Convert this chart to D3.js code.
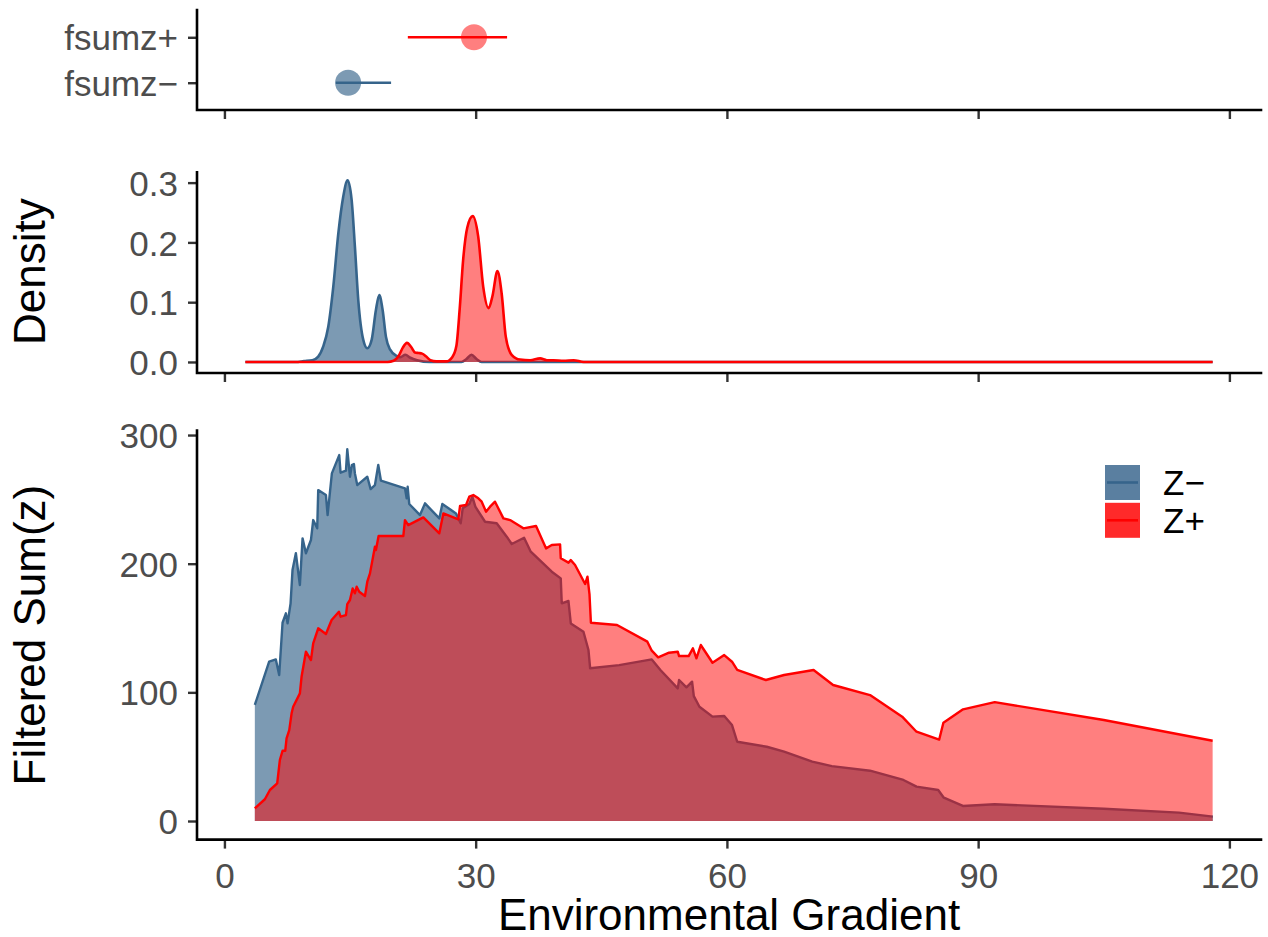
<!DOCTYPE html>
<html><head><meta charset="utf-8">
<script src="https://cdn.jsdelivr.net/npm/d3@7"></script>
<style>html,body{margin:0;padding:0;background:#fff;}svg{display:block;}</style>
</head><body>
<svg id="chart" width="1268" height="937"></svg>
<script>
// ---------------- DATA ----------------
const xTicks = [0, 30, 60, 90, 120];
const densityTicks = [0.0, 0.1, 0.2, 0.3];
const sumTicks = [0, 100, 200, 300];
const summaryLabels = ["fsumz\u2212", "fsumz+"];
const summaryMid = [14.77, 29.8];
const summaryLow = [13.3, 21.9];
const summaryHigh = [19.9, 33.75];
const legendLabels = ["Z\u2212", "Z+"];

const densNegX = [2.5, 8.5, 9.5, 10.5, 11.2, 11.8, 12.4, 13.0, 13.6, 14.18, 14.71, 15.19, 15.58, 15.98, 16.58, 17.06, 17.58, 18.09, 18.49, 18.89, 19.29, 19.77, 20.56, 21.0, 21.6, 22.2, 23.0, 24.5, 28.3, 28.9, 29.5, 30.1, 30.7, 32, 118];
const densNegY = [0, 0, 0.0015, 0.003, 0.009, 0.026, 0.059, 0.126, 0.215, 0.276, 0.304, 0.271, 0.193, 0.104, 0.037, 0.023, 0.037, 0.087, 0.112, 0.087, 0.042, 0.021, 0.010, 0.008, 0.012, 0.007, 0.003, 0, 0, 0.005, 0.012, 0.005, 0, 0, 0];

const densPosX = [2.5, 19.5, 20.2, 20.8, 21.3, 21.8, 22.3, 22.75, 23.2, 23.6, 24.1, 24.6, 25.3, 26.5, 27.2, 27.7, 28.1, 28.5, 29.0, 29.65, 30.3, 30.9, 31.55, 32.0, 32.6, 33.1, 33.6, 34.3, 35.3, 36.5, 37.7, 38.5, 39.3, 40.5, 41.7, 42.9, 44, 118];
const densPosY = [0, 0, 0.002, 0.01, 0.024, 0.032, 0.025, 0.016, 0.015, 0.014, 0.009, 0.003, 0.001, 0.001, 0.008, 0.027, 0.09, 0.17, 0.225, 0.244, 0.21, 0.126, 0.09, 0.11, 0.152, 0.115, 0.042, 0.012, 0.004, 0.003, 0.006, 0.003, 0.003, 0.002, 0.003, 0, 0, 0];

const sumNegX = [3.63, 5.34, 6.14, 6.54, 6.94, 7.34, 7.54, 7.9, 8.13, 8.53, 9.01, 9.33, 9.73, 10.33, 10.6, 11.08, 11.2, 12.12, 12.32, 12.83, 13.71, 13.87, 14.51, 14.67, 14.99, 15.22, 15.46, 15.58, 15.86, 17.06, 17.46, 17.97, 18.37, 18.69, 21.56, 21.76, 21.88, 22.07, 23.35, 23.95, 25.66, 26.02, 27.65, 28.21, 28.45, 29.24, 29.6, 29.96, 31.12, 32.51, 33.71, 34.31, 35.78, 36.58, 39.09, 40.16, 40.28, 41.08, 41.36, 42.87, 43.47, 43.67, 47.13, 51.03, 52.06, 54.13, 54.29, 55.17, 55.84, 56.05, 56.72, 58.28, 59.68, 60.61, 61.23, 64.76, 66.83, 70.19, 72.53, 77.09, 81.08, 82.64, 85.23, 85.9, 88.18, 91.96, 105, 113.98, 118.03];
const sumNegY = [90.2, 123.8, 125.6, 113.5, 154.1, 161.4, 153.6, 169.2, 195.1, 208.1, 183.4, 219.7, 208.1, 218.4, 233.9, 227.5, 257.2, 253.4, 237.8, 270.2, 284.4, 270.7, 272.3, 288.9, 267.6, 276.7, 277.5, 270.2, 261.1, 267.6, 258, 261.1, 276.7, 264.5, 258.6, 250.8, 259.8, 246.4, 237.8, 246.9, 235.2, 246.4, 239.1, 231.4, 243.0, 246.4, 252.1, 244.3, 232.6, 231.4, 221, 215.3, 220.2, 209.3, 193.8, 188.6, 169.2, 171, 153.6, 147.1, 132.9, 118.7, 121.2, 125.6, 117.4, 103.1, 109.6, 103.9, 108.3, 97.1, 88.8, 81.1, 81.6, 74.6, 61.6, 57.7, 53.9, 46.1, 42.7, 39.1, 31.9, 26.7, 24.1, 18.1, 11.7, 13.0, 9.5, 6.5, 3.4];

const sumPosX = [3.63, 4.83, 5.43, 6.3, 6.62, 6.94, 7.26, 7.42, 7.74, 8.02, 8.21, 9.01, 9.21, 9.73, 10.33, 10.6, 11.2, 12.12, 12.8, 13.67, 13.87, 14.51, 14.67, 14.99, 15.31, 15.58, 15.79, 16.1, 16.78, 17.06, 17.38, 17.97, 18.09, 18.41, 21.36, 21.56, 21.95, 23.75, 25.66, 26.14, 27.93, 28.13, 28.85, 29.24, 29.72, 30.32, 30.72, 31.24, 31.72, 32.31, 33.31, 34.11, 35.7, 37.21, 38.41, 39.09, 40.08, 40.16, 41.08, 41.36, 41.87, 43.07, 43.35, 43.59, 43.76, 46.88, 50.5, 51.03, 51.79, 53.09, 54.13, 54.29, 55.43, 55.94, 56.36, 56.88, 58.28, 59.68, 60.61, 61.23, 64.65, 66.83, 70.35, 72.68, 77.09, 80.93, 82.64, 85.35, 85.85, 88.2, 91.98, 105, 118.0];
const sumPosY = [9.9, 16.9, 24.1, 29.3, 47.4, 54.6, 54.6, 64.3, 70.7, 83.7, 88.8, 99.2, 112.1, 131.6, 125.1, 138.1, 149.8, 145.3, 156.2, 162.7, 158.8, 160.1, 168.6, 171.8, 180.8, 177, 182.1, 178.2, 174.9, 186, 192.5, 213.2, 210.6, 221.5, 221.5, 233.9, 230, 236, 223.6, 239.1, 234.5, 244.8, 245.6, 252.1, 253.4, 250.8, 248.2, 240.4, 244.3, 248.2, 235.2, 233.9, 227.5, 229.3, 211.9, 214.5, 215, 204.2, 200.8, 202.8, 199, 184.2, 189.9, 176.4, 154.1, 152.3, 139.4, 132.4, 127.2, 130.8, 131.6, 128.2, 128.2, 134.2, 126.5, 136.8, 123.0, 129, 123.8, 117.4, 109.6, 113.5, 117.4, 105.7, 97.9, 81.1, 69.4, 63.3, 76.4, 86.8, 92.4, 78.5, 62.4];

// ---------------- STYLE ----------------
const BLUE = "#36648B", RED = "#FF0000";
const FONT = "'Liberation Sans', Arial, Helvetica, sans-serif";
const TICK_FS = 35, TITLE_FS = 44;

const svg = d3.select("#chart");
const left = 197, right = 1261;

const x = d3.scaleLinear().domain([-3.275, 123.775]).range([left, right]);
const yTop = d3.scalePoint().domain(summaryLabels).range([110, 10]).padding(0.6);
const yDen = d3.scaleLinear().domain([-0.0151, 0.3171]).range([371, 172.4]);
const ySum = d3.scaleLinear().domain([-14.45, 303.45]).range([839.6, 430.6]);

function zip(xs, ys) { return xs.map((v, i) => [v, ys[i]]); }

function styleAxis(g, showLabels) {
  g.select(".domain").remove();
  g.selectAll(".tick line").attr("stroke", "#333333").attr("stroke-width", 2.4);
  g.selectAll(".tick text").attr("fill", "#4D4D4D").style("font-family", FONT).style("font-size", TICK_FS + "px");
  if (!showLabels) g.selectAll(".tick text").remove();
}

function panelAxes(yScale, top, bottom, yAxisGen, showX) {
  const gx = svg.append("g").attr("transform", `translate(0,${bottom})`)
    .call(d3.axisBottom(x).tickValues(xTicks).tickSize(9).tickPadding(7).tickFormat(d3.format("d")));
  styleAxis(gx, showX);
  if (showX) gx.selectAll(".tick text").attr("dy", "0.92em");
  const gy = svg.append("g").attr("transform", `translate(${left},0)`).call(yAxisGen);
  styleAxis(gy, true);
  gy.selectAll(".tick text").attr("dy", "0.36em");
  svg.append("path").attr("d", `M${left},${top}V${bottom}H${right}`)
    .attr("fill", "none").attr("stroke", "#000").attr("stroke-width", 2.6).attr("stroke-linecap", "square");
}

// ---------------- PANEL 1: summary ----------------
panelAxes(yTop, 10, 110, d3.axisLeft(yTop).tickSize(9).tickPadding(10), false);
const colors = [BLUE, RED];
const fillOp = [0.65, 0.5];
summaryLabels.forEach((lab, i) => {
  svg.append("line").attr("x1", x(summaryLow[i])).attr("x2", x(summaryHigh[i]))
    .attr("y1", yTop(lab)).attr("y2", yTop(lab)).attr("stroke", colors[i]).attr("stroke-width", 2.6);
  svg.append("circle").attr("cx", x(summaryMid[i])).attr("cy", yTop(lab)).attr("r", 13)
    .attr("fill", colors[i]).attr("fill-opacity", fillOp[i]);
});

// ---------------- PANEL 2: density ----------------
panelAxes(yDen, 172.4, 373, d3.axisLeft(yDen).tickValues(densityTicks).tickSize(9).tickPadding(10).tickFormat(d3.format(".1f")), false);
const densSeries = [zip(densNegX, densNegY), zip(densPosX, densPosY)];
densSeries.forEach((s, i) => {
  const area = d3.area().x(d => x(d[0])).y0(yDen(0)).y1(d => yDen(d[1])).curve(d3.curveMonotoneX);
  const line = d3.line().x(d => x(d[0])).y(d => yDen(d[1])).curve(d3.curveMonotoneX);
  svg.append("path").attr("d", area(s)).attr("fill", colors[i]).attr("fill-opacity", fillOp[i]);
  svg.append("path").attr("d", line(s)).attr("fill", "none").attr("stroke", colors[i]).attr("stroke-width", 2.6).attr("stroke-linejoin", "round");
});

// ---------------- PANEL 3: filtered sum ----------------
panelAxes(ySum, 430.6, 839.6, d3.axisLeft(ySum).tickValues(sumTicks).tickSize(9).tickPadding(10).tickFormat(d3.format("d")), true);
const sumSeries = [zip(sumNegX, sumNegY), zip(sumPosX, sumPosY)];
sumSeries.forEach((s, i) => {
  const area = d3.area().x(d => x(d[0])).y0(ySum(0)).y1(d => ySum(d[1]));
  const line = d3.line().x(d => x(d[0])).y(d => ySum(d[1]));
  svg.append("path").attr("d", area(s)).attr("fill", colors[i]).attr("fill-opacity", fillOp[i]);
  svg.append("path").attr("d", line(s)).attr("fill", "none").attr("stroke", colors[i]).attr("stroke-width", 2.4).attr("stroke-linejoin", "round");
});

// ---------------- Titles ----------------
svg.append("text").attr("x", (left + right) / 2).attr("y", 930).attr("text-anchor", "middle")
  .style("font-family", FONT).style("font-size", TITLE_FS + "px").attr("fill", "#000").text("Environmental Gradient");
svg.append("text").attr("transform", `translate(45,${(172.4 + 371) / 2}) rotate(-90)`).attr("text-anchor", "middle")
  .style("font-family", FONT).style("font-size", TITLE_FS + "px").attr("fill", "#000").text("Density");
svg.append("text").attr("transform", `translate(45,${(430.6 + 839.6) / 2}) rotate(-90)`).attr("text-anchor", "middle")
  .style("font-family", FONT).style("font-size", TITLE_FS + "px").attr("fill", "#000").text("Filtered Sum(z)");

// ---------------- Legend ----------------
const keyFill = ["#5A7FA0", "#FF2A2A"];
legendLabels.forEach((lab, i) => {
  const ky = 465 + i * 37.8;
  svg.append("rect").attr("x", 1105).attr("y", ky).attr("width", 35).attr("height", 35).attr("fill", keyFill[i]);
  svg.append("line").attr("x1", 1107).attr("x2", 1138).attr("y1", ky + 17.5).attr("y2", ky + 17.5)
    .attr("stroke", colors[i]).attr("stroke-width", 2.6);
  svg.append("text").attr("x", 1163).attr("y", ky + 17.5).attr("dy", "0.36em")
    .style("font-family", FONT).style("font-size", TICK_FS + "px").attr("fill", "#000").text(lab);
});
</script>
</body></html>
